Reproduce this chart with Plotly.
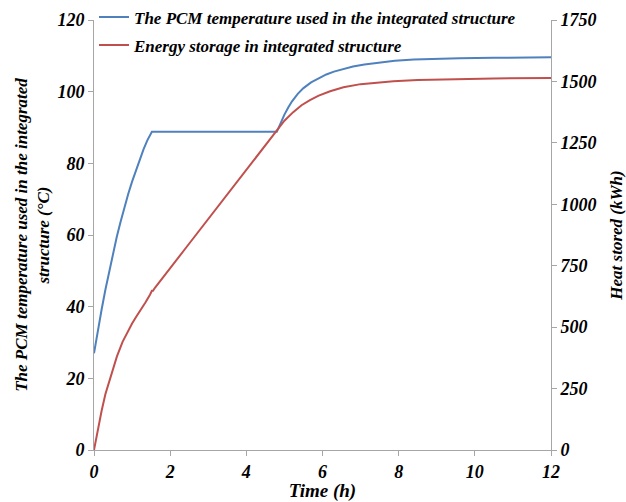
import plotly.graph_objects as go

# PCM temperature in the integrated structure (°C) vs time (h)
temp_time = [0, 0.05, 0.1, 0.2, 0.3, 0.4, 0.5, 0.6, 0.7, 0.8, 0.9, 1.0, 1.1, 1.2, 1.3, 1.4, 1.52,
             4.8, 4.9, 5.0, 5.1, 5.2, 5.35, 5.5, 5.7, 5.9, 6.1, 6.3, 6.55, 6.8, 7.1, 7.5, 7.9,
             8.4, 9.0, 9.6, 10.5, 12]
temp_values = [27, 30.2, 33.3, 39.2, 44.8, 50, 55, 59.6, 63.8, 67.8, 71.5, 74.9, 78.1, 81.1, 83.9, 86.4, 88.8,
               88.8, 91.3, 93.6, 95.6, 97.3, 99.4, 101, 102.6, 103.8, 104.8, 105.6, 106.4, 107.0,
               107.6, 108.2, 108.6, 108.95, 109.2, 109.3, 109.45, 109.6]

# Heat stored in the integrated structure (kWh) vs time (h)
heat_time = [0, 0.05, 0.1, 0.2, 0.3, 0.45, 0.6, 0.75, 0.86, 1.0, 1.1, 1.21, 1.35, 1.47, 1.52, 1.55, 1.6,
             2.39, 3.0, 4.0, 4.84, 5.0, 5.23, 5.45, 5.67, 5.9, 6.2, 6.55, 7.0, 7.5, 7.86, 8.5,
             9.6, 10.5, 12]
heat_values = [0, 44, 86, 160, 228, 308, 380, 440, 475, 515, 540, 565, 600, 632, 648, 648, 660,
               818, 941, 1141, 1310, 1340, 1375, 1403, 1424, 1442, 1460, 1476, 1489, 1497, 1501,
               1506, 1510, 1512, 1514]

x_ticks = [0, 2, 4, 6, 8, 10, 12]
temp_ticks = [0, 20, 40, 60, 80, 100, 120]
heat_ticks = [0, 250, 500, 750, 1000, 1250, 1500, 1750]

FONT = "Liberation Serif"
AXIS_COLOR = "#a6a6a6"
tick_font = dict(family=FONT, size=18, color="black", weight="bold", style="italic")
title_font = dict(family=FONT, size=17, color="black", weight="bold", style="italic")
xtitle_font = dict(family=FONT, size=19, color="black", weight="bold", style="italic")

fig = go.Figure()
fig.add_trace(go.Scatter(
    x=temp_time, y=temp_values, mode="lines",
    name="The PCM temperature used in the integrated structure",
    legendgroup="temp",
    line=dict(color="#4f81bd", width=2), yaxis="y",
))
fig.add_trace(go.Scatter(
    x=heat_time, y=heat_values, mode="lines",
    name="Energy storage in integrated structure",
    legendgroup="heat",
    line=dict(color="#c0504d", width=2), yaxis="y2",
))

axis_common = dict(
    showline=True, linecolor=AXIS_COLOR, linewidth=1,
    ticks="outside", ticklen=5, tickcolor=AXIS_COLOR,
    showgrid=False, zeroline=False, tickfont=tick_font, automargin=False,
)

fig.update_layout(
    width=626, height=502,
    margin=dict(l=94, r=75, t=20, b=52, autoexpand=False),
    paper_bgcolor="white", plot_bgcolor="white",
    xaxis=dict(range=[0, 12], tickvals=x_ticks,
               title=dict(text="Time (h)", font=xtitle_font, standoff=4), **axis_common),
    yaxis=dict(range=[0, 120], tickvals=temp_ticks,
               title=dict(text="The PCM temperature used in the integrated<br>structure (°C)",
                          font=title_font, standoff=3), **axis_common),
    yaxis2=dict(range=[0, 1750], tickvals=heat_ticks, overlaying="y", side="right",
                title=dict(text="Heat stored (kWh)", font=title_font, standoff=14), **axis_common),
    showlegend=True,
    legend=dict(x=0.0, y=1.048, xanchor="left", yanchor="top",
                bgcolor="rgba(0,0,0,0)", itemwidth=30, traceorder="grouped",
                tracegroupgap=3,
                font=dict(family=FONT, size=17, color="black", weight="bold", style="italic")),
)

fig.write_html("out.html")
